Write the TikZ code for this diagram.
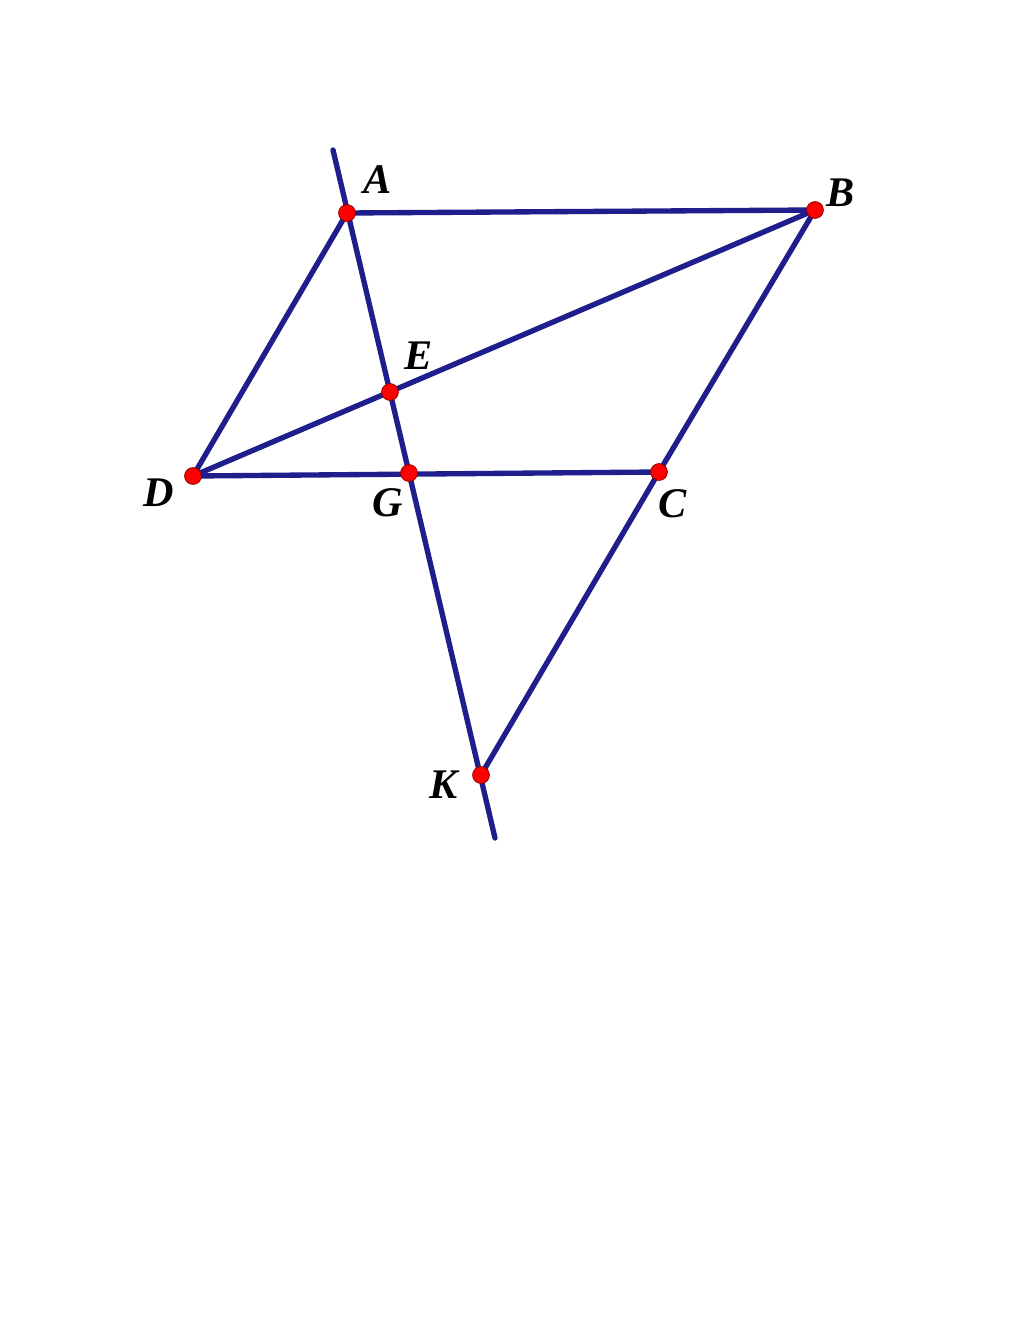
\documentclass[tikz,border=0pt]{standalone}
\usepackage{fontspec}
\setmainfont{Liberation Serif}
\definecolor{navy}{RGB}{30,30,140}
\begin{document}
\begin{tikzpicture}[x=0.025cm,y=-0.025cm,
  seg/.style={draw=navy,line width=3.8pt,line cap=round},
  pt/.style={circle,fill=red,draw=red!60!black,line width=0.6pt,inner sep=0pt,minimum size=0.42cm},
  lab/.style={font=\fontsize{30}{30}\selectfont\bfseries\itshape,inner sep=0pt}]
\useasboundingbox (0,0) rectangle (1024,1326);
\coordinate (A) at (347,213);
\coordinate (B) at (815,210);
\coordinate (C) at (659,472);
\coordinate (D) at (193,476);
\coordinate (E) at (390,392);
\coordinate (G) at (409,473);
\coordinate (K) at (481,775);
\coordinate (T) at (333,150);
\coordinate (U) at (495,838);
\draw[seg] (T) -- (U);
\draw[seg] (A) -- (B) -- (C) -- (D) -- cycle;
\draw[seg] (D) -- (B);
\draw[seg] (C) -- (K);
\foreach \p in {A,B,C,D,E,G,K} \node[pt] (n\p) at (\p) {};
\node[lab] (lA) at (378,180) {A};
\node[lab] (lB) at (841,193) {B};
\node[lab] (lE) at (419,356) {E};
\node[lab] (lD) at (159,493) {D};
\node[lab] (lG) at (388,503) {G};
\node[lab] (lC) at (673,504) {C};
\node[lab] (lK) at (444,785) {K};
\end{tikzpicture}
\end{document}
